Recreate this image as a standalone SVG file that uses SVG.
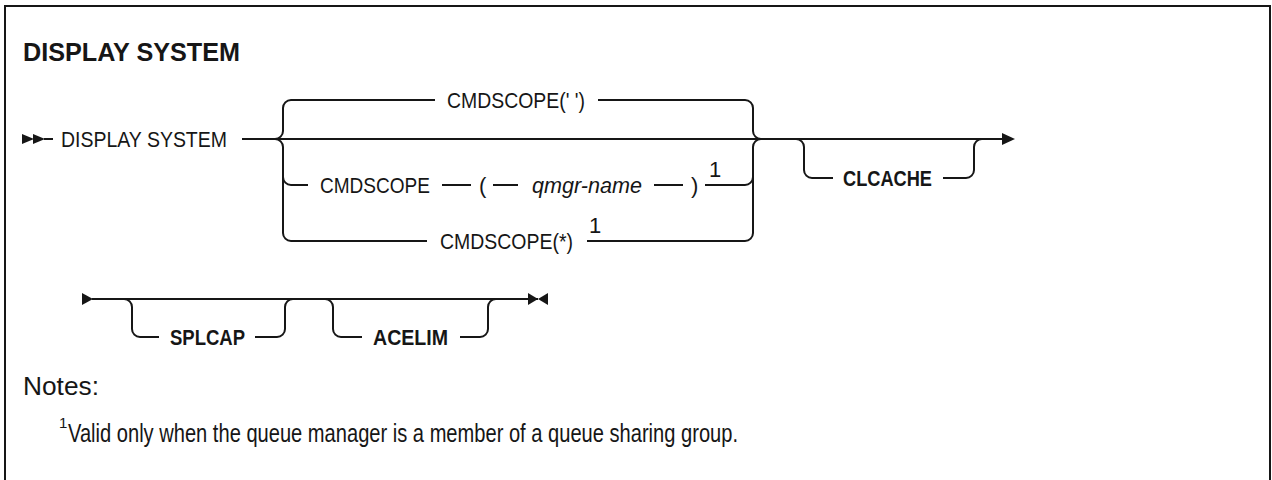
<svg xmlns="http://www.w3.org/2000/svg" width="1272" height="480" viewBox="0 0 1272 480">
<style>
  text { font-family: "Liberation Sans", Arial, sans-serif; fill: #161616; }
  .t { font-size: 22px; }
  .k { font-size: 22px; font-weight: bold; }
  .v { font-size: 22px; font-style: italic; }
  .title { font-size: 25px; font-weight: bold; }
  .note { font-size: 25px; }
  .ln { fill: none; stroke: #161616; stroke-width: 2; }
  .ah { fill: #161616; }
</style>
<rect width="1272" height="480" fill="#ffffff"/>
<path class="ln" d="M5,490 V6 H1270 V490"/>
<text class="title" x="23" y="61" textLength="217" lengthAdjust="spacingAndGlyphs">DISPLAY SYSTEM</text>

<g id="connectors">
  <!-- line 1 -->
  <polygon class="ah" points="22,134 34,139 22,144"/>
  <polygon class="ah" points="33,134 45,139 33,144"/>
  <path class="ln" d="M44,139 H53"/>
  <path class="ln" d="M242,139 H1003"/>
  <polygon class="ah" points="1002,133 1015,139 1002,145"/>
  <!-- choice left brace -->
  <path class="ln" d="M275,139 a8,8 0 0 0 8,-8 V108 a8,8 0 0 1 8,-8 H435"/>
  <path class="ln" d="M275,139 a8,8 0 0 1 8,8 V233 a8,8 0 0 0 8,8 H427"/>
  <path class="ln" d="M283,177 a8,8 0 0 0 8,8 H308"/>
  <!-- row 1 -->
  <path class="ln" d="M598,100 H745 a8,8 0 0 1 8,8 V131 a8,8 0 0 0 8,8"/>
  <!-- row 2 -->
  <path class="ln" d="M442,185 H471"/>
  <path class="ln" d="M493,185 H518"/>
  <path class="ln" d="M654,185 H683"/>
  <path class="ln" d="M705,185 H745 a8,8 0 0 0 8,-8"/>
  <!-- row 3 -->
  <path class="ln" d="M587,241 H745 a8,8 0 0 0 8,-8 V147 a8,8 0 0 1 8,-8"/>
  <!-- CLCACHE -->
  <path class="ln" d="M796,139 a8,8 0 0 1 8,8 V170 a8,8 0 0 0 8,8 H833"/>
  <path class="ln" d="M943,178 H966 a8,8 0 0 0 8,-8 V147 a8,8 0 0 1 8,-8"/>
  <!-- line 2 -->
  <polygon class="ah" points="82,293 93,299 82,305"/>
  <path class="ln" d="M92,299 H538"/>
  <path class="ln" d="M124,299 a8,8 0 0 1 8,8 V329 a8,8 0 0 0 8,8 H159"/>
  <path class="ln" d="M255,337 H277 a8,8 0 0 0 8,-8 V307 a8,8 0 0 1 8,-8"/>
  <path class="ln" d="M325,299 a8,8 0 0 1 8,8 V329 a8,8 0 0 0 8,8 H362"/>
  <path class="ln" d="M460,337 H480 a8,8 0 0 0 8,-8 V307 a8,8 0 0 1 8,-8"/>
  <polygon class="ah" points="528,293 538,299 528,305"/>
  <polygon class="ah" points="548,293 538,299 548,305"/>
</g>

<g id="node-display-system">
  <text class="t" x="61" y="147" textLength="166" lengthAdjust="spacingAndGlyphs">DISPLAY SYSTEM</text>
</g>
<g id="node-cmdscope-blank">
  <text class="t" x="447" y="108" textLength="138" lengthAdjust="spacingAndGlyphs">CMDSCOPE(' ')</text>
</g>
<g id="node-cmdscope-qmgr">
  <text class="t" x="320" y="193" textLength="110" lengthAdjust="spacingAndGlyphs">CMDSCOPE</text>
  <text class="t" x="479" y="193">(</text>
  <text class="v" x="532" y="193" textLength="110" lengthAdjust="spacingAndGlyphs">qmgr-name</text>
  <text class="t" x="691" y="193">)</text>
  <text class="t" x="709" y="177">1</text>
</g>
<g id="node-cmdscope-star">
  <text class="t" x="440" y="249" textLength="133" lengthAdjust="spacingAndGlyphs">CMDSCOPE(*)</text>
  <text class="t" x="589" y="233">1</text>
</g>
<g id="node-clcache">
  <text class="k" x="843" y="186" textLength="89" lengthAdjust="spacingAndGlyphs">CLCACHE</text>
</g>
<g id="node-splcap">
  <text class="k" x="170" y="345" textLength="75" lengthAdjust="spacingAndGlyphs">SPLCAP</text>
</g>
<g id="node-acelim">
  <text class="k" x="373" y="345" textLength="75" lengthAdjust="spacingAndGlyphs">ACELIM</text>
</g>
<g id="notes">
  <text class="note" x="23" y="395" textLength="76" lengthAdjust="spacingAndGlyphs">Notes:</text>
  <text x="59" y="428" style="font-size:15px">1</text>
  <text class="note" x="68" y="442" textLength="670" lengthAdjust="spacingAndGlyphs">Valid only when the queue manager is a member of a queue sharing group.</text>
</g>
</svg>
